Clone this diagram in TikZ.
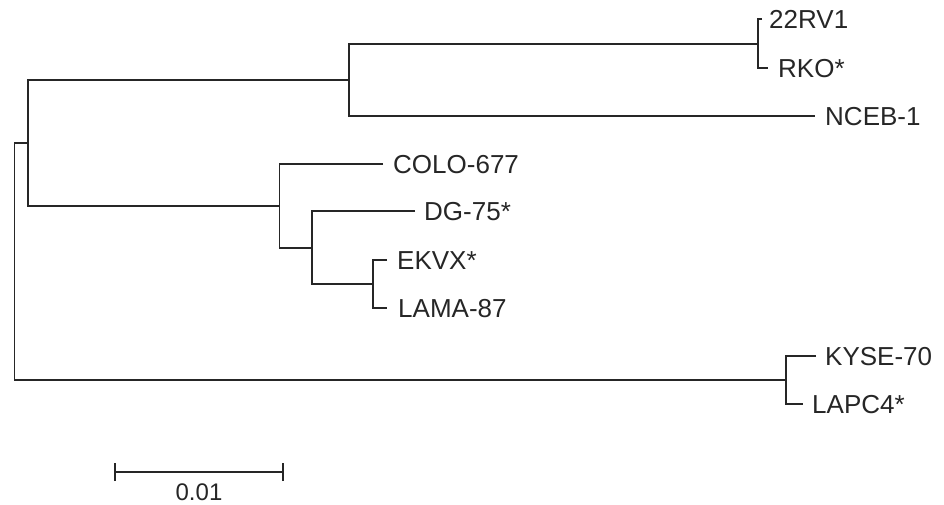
\documentclass[tikz,border=0pt]{standalone}
\usepackage{fontspec}
\setmainfont{Liberation Sans}
\begin{document}
\begin{tikzpicture}[x=1pt,y=-1pt,
  branch/.style={draw=black!85, line width=1.8pt, line join=miter},
  taxon/.style={anchor=west, inner sep=0pt, font=\fontsize{26}{30}\selectfont, text=black!85,
                text height=18.6pt, text depth=0pt, yshift=-0.6pt},
  scalelabel/.style={inner sep=0pt, font=\fontsize{24}{28}\selectfont, text=black!85}]
  \useasboundingbox (0,0) rectangle (944,504);
  % internal nodes (x of split, y of incoming branch)
  \coordinate (R) at (14.5,143);
  \coordinate (A) at (28,143);
  \coordinate (B) at (349,80);
  \coordinate (C) at (758,44);
  \coordinate (D) at (279.5,206);
  \coordinate (E) at (312,248);
  \coordinate (F) at (373,284);
  \coordinate (G) at (786,380);
  % leaf tips
  \coordinate (t22) at (762,19);
  \coordinate (tRKO) at (768,68);
  \coordinate (tNCEB) at (815,116);
  \coordinate (tCOLO) at (383,164);
  \coordinate (tDG) at (415,211);
  \coordinate (tEKVX) at (387,260);
  \coordinate (tLAMA) at (387,308);
  \coordinate (tKYSE) at (816,356);
  \coordinate (tLAPC) at (803,404);
  % branches
  \draw[branch] (A) -| (R) |- (G);
  \draw[branch] (B) -| (A) |- (D);
  \draw[branch] (C) -| (B) |- (tNCEB);
  \draw[branch] (t22) -| (C) |- (tRKO);
  \draw[branch] (tCOLO) -| (D) |- (E);
  \draw[branch] (tDG) -| (E) |- (F);
  \draw[branch] (tEKVX) -| (F) |- (tLAMA);
  \draw[branch] (tKYSE) -| (G) |- (tLAPC);
  % leaf labels
  \node[taxon] (l22) at (769,19) {22RV1};
  \node[taxon] (lRKO) at (778,68) {RKO*};
  \node[taxon] (lNCEB) at (825,116) {NCEB-1};
  \node[taxon] (lCOLO) at (393,164) {COLO-677};
  \node[taxon] (lDG) at (424,211) {DG-75*};
  \node[taxon] (lEKVX) at (397,260) {EKVX*};
  \node[taxon] (lLAMA) at (398,308) {LAMA-87};
  \node[taxon] (lKYSE) at (825,356) {KYSE-70};
  \node[taxon] (lLAPC) at (812,404) {LAPC4*};
  % scale bar
  \coordinate (s0) at (115,472);
  \coordinate (s1) at (283,472);
  \draw[branch] (s0) -- (s1);
  \draw[branch] ([yshift=-9pt]s0) -- ([yshift=9pt]s0);
  \draw[branch] ([yshift=-9pt]s1) -- ([yshift=9pt]s1);
  \node[scalelabel] (sl) at (199,492) {0.01};
\end{tikzpicture}
\end{document}
